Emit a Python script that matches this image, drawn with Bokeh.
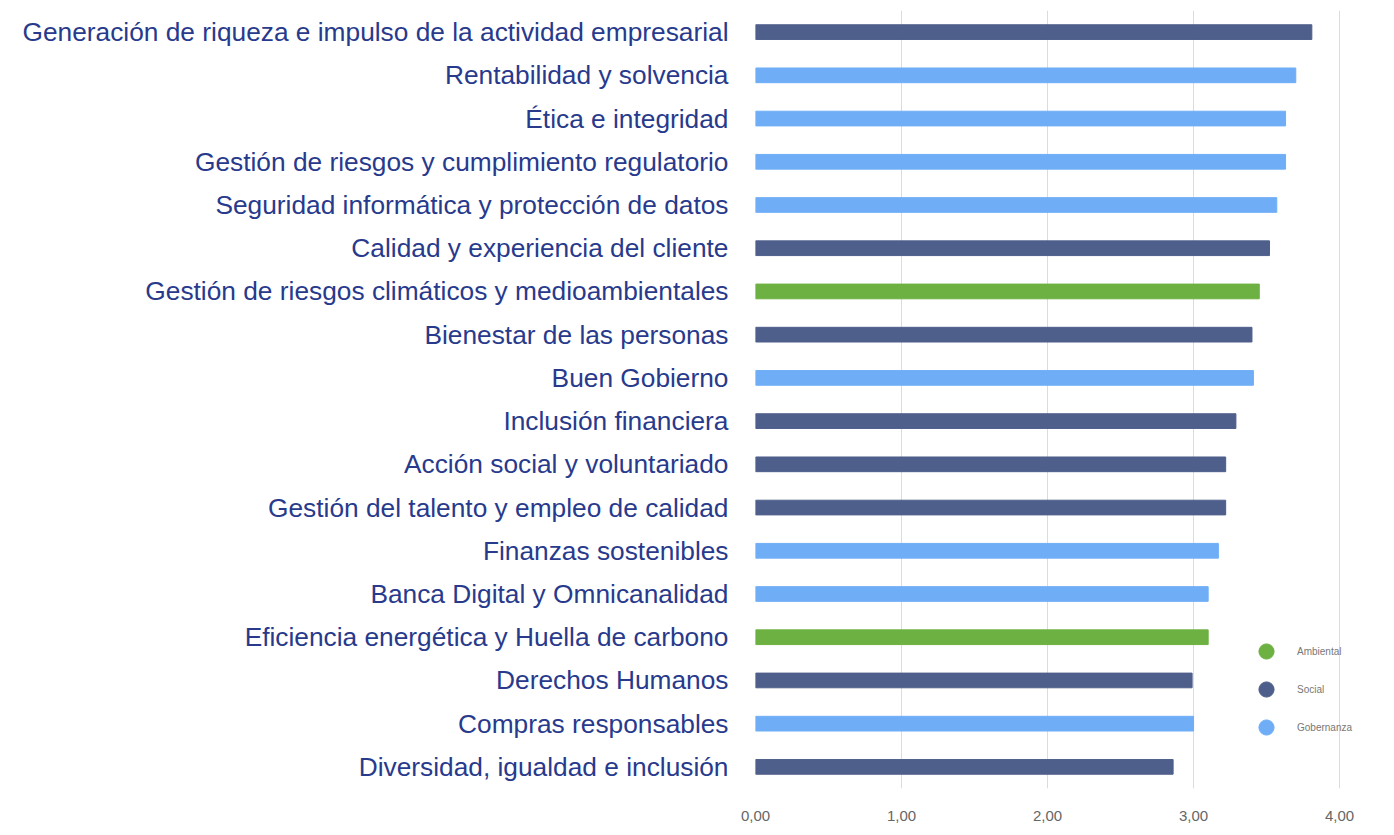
from bokeh.plotting import figure
from bokeh.models import FactorRange, Range1d, Legend, LegendItem, ColumnDataSource, FixedTicker, CustomJSTickFormatter
from bokeh.embed import file_html
from bokeh.resources import INLINE

categories = [
    "Generación de riqueza e impulso de la actividad empresarial",
    "Rentabilidad y solvencia",
    "Ética e integridad",
    "Gestión de riesgos y cumplimiento regulatorio",
    "Seguridad informática y protección de datos",
    "Calidad y experiencia del cliente",
    "Gestión de riesgos climáticos y medioambientales",
    "Bienestar de las personas",
    "Buen Gobierno",
    "Inclusión financiera",
    "Acción social y voluntariado",
    "Gestión del talento y empleo de calidad",
    "Finanzas sostenibles",
    "Banca Digital y Omnicanalidad",
    "Eficiencia energética y Huella de carbono",
    "Derechos Humanos",
    "Compras responsables",
    "Diversidad, igualdad e inclusión",
]
values = [3.81, 3.70, 3.63, 3.63, 3.57, 3.52, 3.45, 3.40, 3.41, 3.29, 3.22, 3.22, 3.17, 3.10, 3.10, 2.99, 3.00, 2.86]
groups = ["Social", "Gobernanza", "Gobernanza", "Gobernanza", "Gobernanza", "Social", "Ambiental",
          "Social", "Gobernanza", "Social", "Social", "Social", "Gobernanza", "Gobernanza",
          "Ambiental", "Social", "Gobernanza", "Social"]
legend_labels = ["Ambiental", "Social", "Gobernanza"]
x_ticks = [0, 1, 2, 3, 4]

palette = {"Ambiental": "#6cb142", "Social": "#4f5f8b", "Gobernanza": "#6faef7"}

source = ColumnDataSource(dict(cat=categories, val=values, grp=groups,
                               col=[palette[g] for g in groups]))

p = figure(width=1380, height=826, output_backend="svg", toolbar_location=None,
           y_range=FactorRange(*list(reversed(categories)), range_padding=0),
           x_range=Range1d(0, 4.246),
           min_border_left=755, min_border_right=5, min_border_top=10, min_border_bottom=38)
p.outline_line_color = None
p.background_fill_color = "white"

p.hbar(y="cat", right="val", left=0, height=0.34, color="col", source=source)

p.xgrid.ticker = FixedTicker(ticks=x_ticks)
p.xgrid.grid_line_color = "#dcdcdc"
p.xgrid.grid_line_width = 1
p.ygrid.grid_line_color = None

p.xaxis.ticker = FixedTicker(ticks=x_ticks)
p.xaxis.formatter = CustomJSTickFormatter(code="return tick.toFixed(2).replace('.', ',');")
p.xaxis.axis_line_color = None
p.xaxis.major_tick_line_color = None
p.xaxis.minor_tick_line_color = None
p.xaxis.major_label_text_font = "Liberation Sans"
p.xaxis.major_label_text_font_size = "15px"
p.xaxis.major_label_text_color = "#666666"
p.xaxis.major_label_standoff = 16

p.yaxis.axis_line_color = None
p.yaxis.major_tick_line_color = None
p.yaxis.minor_tick_line_color = None
p.yaxis.major_label_text_font = "Liberation Sans"
p.yaxis.major_label_text_font_size = "26.3px"
p.yaxis.major_label_text_color = "#283a8c"
p.yaxis.major_label_standoff = 21

items = []
for lab in legend_labels:
    r = p.scatter(x=[-1], y=[categories[0]], size=17, marker="circle", color=palette[lab])
    items.append(LegendItem(label=lab, renderers=[r]))
legend = Legend(items=items, location=(492, 42), border_line_color=None,
                background_fill_alpha=0, label_text_font_size="10px",
                label_text_color="#777777", glyph_width=38, glyph_height=38,
                spacing=0, padding=4, label_standoff=12)
p.add_layout(legend)

open("out.html", "w").write(file_html(p, INLINE))
